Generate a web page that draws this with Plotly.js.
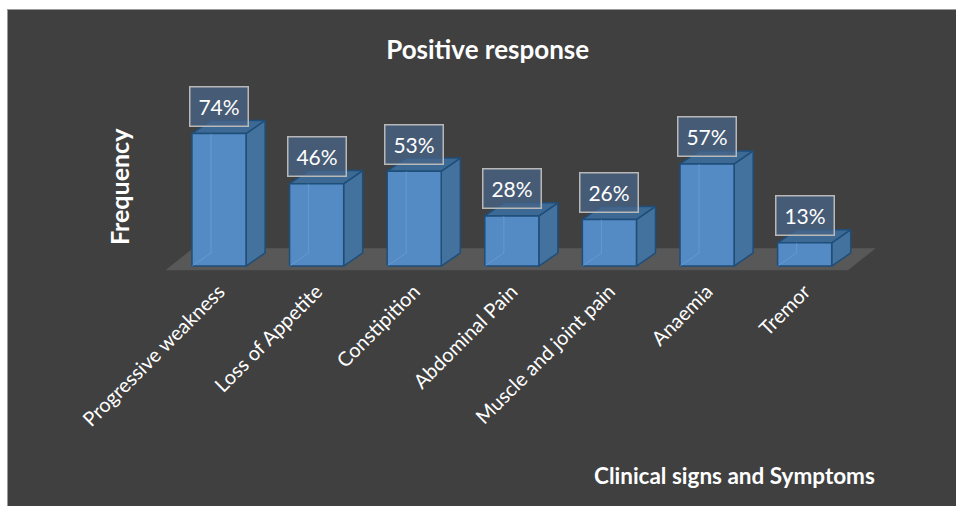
<!DOCTYPE html>
<html>
<head>
<meta charset="utf-8">
<script src="https://cdn.plot.ly/plotly-3.0.1.min.js"></script>
<style>
  html, body { margin: 0; padding: 0; background: #ffffff; }
  #chart { position: absolute; left: 7px; top: 9px; width: 948px; height: 496px;
           border-left: 1px solid #9a9a9a; border-top: 1px solid #9a9a9a; }
</style>
</head>
<body>
<div id="chart"></div>
<script>
// ---- data ----
const categories = ['Progressive weakness', 'Loss of Appetite', 'Constipition', 'Abdominal Pain',
                    'Muscle and joint pain', 'Anaemia', 'Tremor'];
const values = [74, 46, 53, 28, 26, 57, 13];
const valueLabels = ['74%', '46%', '53%', '28%', '26%', '57%', '13%'];
const chartTitle = 'Positive response';
const xTitle = 'Clinical signs and Symptoms';
const yTitle = 'Frequency';

// ---- pseudo-3D geometry (data units) ----
const halfW = 0.277;      // half bar width (category units)
const depthX = 0.195;     // bar depth offset in x
const depthY = 7.3;       // bar depth offset in y (%)
const floorFront = -2.2, floorBack = 9.8;
const floorDX = 0.277;

const FRONT = '#558bc5', SIDE = '#44729f', TOP = '#3d6995', EDGE = '#1f4e79';
const traces = [];

function poly(xs, ys, fill, line, lw) {
  traces.push({
    type: 'scatter', mode: 'lines', x: xs.concat([xs[0]]), y: ys.concat([ys[0]]),
    fill: 'toself', fillcolor: fill, line: {color: line, width: lw},
    hoverinfo: 'skip', showlegend: false
  });
}

// floor
const fl = -0.5 - 0.043, fr = categories.length - 1 + 0.445;
poly([fl, fr, fr + floorDX, fl + floorDX],
     [floorFront, floorFront, floorBack, floorBack], '#585858', '#585858', 0.5);

// bars
values.forEach((v, i) => {
  const x0 = i - halfW, x1 = i + halfW;
  // side face
  poly([x1, x1 + depthX, x1 + depthX, x1], [0, depthY, v + depthY, v], SIDE, EDGE, 1.5);
  // top face
  poly([x0, x1, x1 + depthX, x0 + depthX], [v, v, v + depthY, v + depthY], TOP, EDGE, 1.5);
  // front face
  poly([x0, x1, x1, x0], [0, 0, v, v], FRONT, EDGE, 1.5);
  // hidden back edges seen through the semi-transparent bar
  traces.push({
    type: 'scatter', mode: 'lines',
    x: [x0, x0 + depthX, x0 + depthX], y: [0, depthY, v],
    line: {color: 'rgba(120,170,220,0.45)', width: 1},
    hoverinfo: 'skip', showlegend: false
  });
});

const annotations = values.map((v, i) => ({
  x: i, y: v + 15.1, xref: 'x', yref: 'y', text: valueLabels[i], showarrow: false,
  font: {family: 'Lato, "Open Sans", sans-serif', size: 21, color: '#ffffff'},
  bgcolor: 'rgba(72,100,135,0.75)', bordercolor: '#b8b8b8', borderwidth: 1.5,
  borderpad: 1.5, width: 54, height: 35, xanchor: 'center', yanchor: 'middle'
}));

annotations.push({
  x: 0.779, y: -1.026, xref: 'paper', yref: 'paper', text: '<b>' + xTitle + '</b>',
  showarrow: false, xanchor: 'center', yanchor: 'middle',
  font: {family: 'Lato, sans-serif', size: 22.5, color: '#ffffff'}
});
annotations.push({
  x: -0.0413, y: 0.451, xref: 'paper', yref: 'paper', text: '<b>' + yTitle + '</b>',
  showarrow: false, xanchor: 'center', yanchor: 'middle', textangle: -90,
  font: {family: 'Lato, sans-serif', size: 25, color: '#ffffff'}
});

const layout = {
  width: 948, height: 496,
  paper_bgcolor: '#404040', plot_bgcolor: 'rgba(0,0,0,0)',
  margin: {l: 142, r: 56, t: 70, b: 231},
  title: {text: '<b>' + chartTitle + '</b>', x: 0.506, xref: 'container', xanchor: 'center',
          y: 0.919, yref: 'container', yanchor: 'middle',
          font: {family: 'Lato, sans-serif', size: 26, color: '#ffffff'}},
  xaxis: {
    range: [-0.707, 6.977], tickmode: 'array', tickvals: categories.map((c, i) => i),
    ticktext: categories, tickangle: -45, showgrid: false, zeroline: false, showline: false,
    ticks: '', ticklen: 0,
    tickfont: {family: 'Lato, sans-serif', size: 20, color: '#ffffff'}, fixedrange: true
  },
  yaxis: {
    range: [-5, 103.9], showgrid: false, zeroline: false, showline: false,
    showticklabels: false, ticks: '', fixedrange: true
  },
  annotations: annotations,
  showlegend: false
};

Plotly.newPlot('chart', traces, layout, {displayModeBar: false, staticPlot: true});
</script>
</body>
</html>
